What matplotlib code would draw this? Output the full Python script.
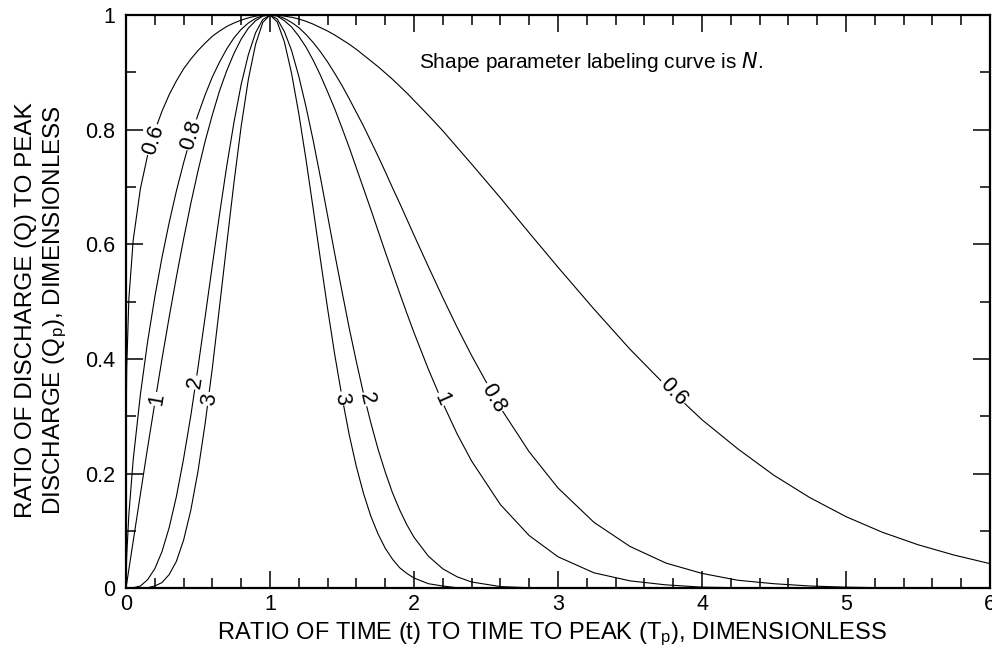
import matplotlib
matplotlib.use("Agg")
import matplotlib.pyplot as plt
from matplotlib.ticker import MultipleLocator

plt.rcParams['font.family'] = ['Liberation Sans', 'DejaVu Sans']
plt.rcParams['mathtext.default'] = 'regular'

# ratio of time to time to peak (t/Tp)
t_ratio = [0, 0.001, 0.005, 0.02, 0.05, 0.1, 0.15, 0.2, 0.25, 0.3, 0.35, 0.4, 0.45,
           0.5, 0.55, 0.6, 0.65, 0.7, 0.75, 0.8, 0.85, 0.9, 0.95, 1.0, 1.05, 1.1,
           1.15, 1.2, 1.25, 1.3, 1.35, 1.4, 1.45, 1.5, 1.55, 1.6, 1.65, 1.7, 1.75,
           1.8, 1.85, 1.9, 1.95, 2.0, 2.1, 2.2, 2.3, 2.4, 2.6, 2.8,
           3.0, 3.25, 3.5, 3.75, 4.0, 4.25, 4.5, 4.75, 5.0, 5.25, 5.5, 5.75, 6.0]

# ratio of discharge to peak discharge (Q/Qp), one list per shape parameter N
q_n06 = [0, 0.278, 0.383, 0.505, 0.607, 0.697, 0.755, 0.798, 0.832, 0.861, 0.885, 0.906, 0.923,
         0.938, 0.951, 0.963, 0.972, 0.980, 0.986, 0.991, 0.995, 0.998, 1.0, 1.0, 1.0, 0.998,
         0.996, 0.993, 0.989, 0.984, 0.978, 0.972, 0.965, 0.957, 0.949, 0.940, 0.930, 0.920, 0.910,
         0.899, 0.888, 0.876, 0.864, 0.851, 0.825, 0.798, 0.769, 0.740, 0.681, 0.620,
         0.560, 0.487, 0.417, 0.353, 0.294, 0.243, 0.197, 0.158, 0.125, 0.098, 0.076, 0.058, 0.043]
q_n08 = [0, 0.021, 0.056, 0.129, 0.224, 0.338, 0.430, 0.508, 0.577, 0.638, 0.693, 0.742, 0.787,
         0.826, 0.861, 0.892, 0.918, 0.941, 0.960, 0.975, 0.986, 0.994, 0.999, 1.0, 0.999, 0.994,
         0.987, 0.978, 0.966, 0.952, 0.936, 0.918, 0.898, 0.877, 0.854, 0.830, 0.806, 0.780, 0.754,
         0.727, 0.699, 0.672, 0.644, 0.616, 0.561, 0.507, 0.455, 0.406, 0.315, 0.238,
         0.175, 0.115, 0.073, 0.044, 0.026, 0.014, 0.008, 0.004, 0.002, 0.001, 0, 0, 0]
q_n1 = [0, 0.002, 0.008, 0.033, 0.082, 0.164, 0.245, 0.323, 0.400, 0.473, 0.543, 0.609, 0.671,
        0.728, 0.780, 0.826, 0.868, 0.903, 0.933, 0.958, 0.977, 0.990, 0.998, 1.0, 0.998, 0.990,
        0.979, 0.963, 0.944, 0.921, 0.895, 0.866, 0.836, 0.803, 0.769, 0.733, 0.697, 0.661, 0.624,
        0.587, 0.551, 0.515, 0.480, 0.446, 0.382, 0.323, 0.269, 0.222, 0.146, 0.092,
        0.055, 0.027, 0.013, 0.006, 0.002, 0.001, 0, 0, 0, 0, 0, 0, 0]
q_n2 = [0, 0, 0, 0, 0.001, 0.004, 0.015, 0.034, 0.064, 0.106, 0.160, 0.226, 0.301,
        0.385, 0.474, 0.564, 0.653, 0.737, 0.813, 0.879, 0.931, 0.969, 0.992, 1.0, 0.993, 0.971,
        0.938, 0.893, 0.840, 0.781, 0.717, 0.650, 0.583, 0.518, 0.454, 0.395, 0.339, 0.289, 0.243,
        0.203, 0.167, 0.137, 0.111, 0.089, 0.056, 0.034, 0.020, 0.011, 0.003, 0.001,
        0, 0, 0, 0, 0, 0, 0, 0, 0, 0, 0, 0, 0]
q_n3 = [0, 0, 0, 0, 0, 0, 0.001, 0.004, 0.010, 0.024, 0.047, 0.084, 0.136,
        0.204, 0.288, 0.385, 0.492, 0.601, 0.708, 0.806, 0.888, 0.949, 0.987, 1.0, 0.988, 0.953,
        0.898, 0.828, 0.748, 0.662, 0.574, 0.488, 0.407, 0.334, 0.268, 0.212, 0.165, 0.126, 0.095,
        0.070, 0.051, 0.036, 0.026, 0.018, 0.008, 0.004, 0.001, 0.001, 0, 0,
        0, 0, 0, 0, 0, 0, 0, 0, 0, 0, 0, 0, 0]

curves = [q_n06, q_n08, q_n1, q_n2, q_n3]

# inline curve labels: text, x, y, rotation
curve_labels = [
    ("0.6", 0.19, 0.782, 72), ("0.8", 0.456, 0.791, 73),
    ("1", 0.213, 0.33, 80), ("2", 0.479, 0.359, 81), ("3", 0.583, 0.33, 82),
    ("3", 1.497, 0.331, -80), ("2", 1.67, 0.33, -77), ("1", 2.19, 0.33, -66),
    ("0.8", 2.55, 0.332, -60), ("0.6", 3.80, 0.343, -46),
]

fig = plt.figure(figsize=(9.92, 6.51), dpi=100)
ax = fig.add_axes([0.127, 0.0963, 0.871, 0.8807])

for q in curves:
    ax.plot(t_ratio, q, color='black', lw=0.8)

for txt, x, y, rot in curve_labels:
    ax.text(x, y, txt, rotation=rot, rotation_mode='anchor', ha='center', va='center',
            fontsize=15.5, bbox=dict(facecolor='white', edgecolor='none', pad=0.8), zorder=3)

ax.text(3.23, 0.918, 'Shape parameter labeling curve is $\\it{N}$.', ha='center', va='center',
        fontsize=15)

ax.set_xlim(0, 6)
ax.set_ylim(0, 1)
ax.xaxis.set_major_locator(MultipleLocator(1))
ax.xaxis.set_minor_locator(MultipleLocator(0.2))
ax.yaxis.set_major_locator(MultipleLocator(0.2))
ax.yaxis.set_minor_locator(MultipleLocator(0.1))
ax.set_yticks([0, 0.2, 0.4, 0.6, 0.8, 1.0])
ax.set_yticklabels(['0', '0.2', '0.4', '0.6', '0.8', '1'])

ax.tick_params(which='both', direction='in', top=True, right=True, width=1.1)
ax.tick_params(which='major', length=12)
ax.tick_params(which='minor', length=7)
ax.tick_params(axis='x', which='major', labelsize=15.5, pad=4)
ax.tick_params(axis='y', which='major', labelsize=15.5, pad=8)
for s in ax.spines.values():
    s.set_linewidth(1.6)

ax.set_xlabel('RATIO OF TIME (t) TO TIME TO PEAK (T$_p$), DIMENSIONLESS', fontsize=17)
ax.set_ylabel('RATIO OF DISCHARGE (Q) TO PEAK\nDISCHARGE (Q$_p$), DIMENSIONLESS', fontsize=17.5,
              linespacing=1.25)
ax.xaxis.set_label_coords(0.493, -0.056)
ax.yaxis.set_label_coords(-0.066, 0.485)

fig.savefig('out.png', dpi=100)
